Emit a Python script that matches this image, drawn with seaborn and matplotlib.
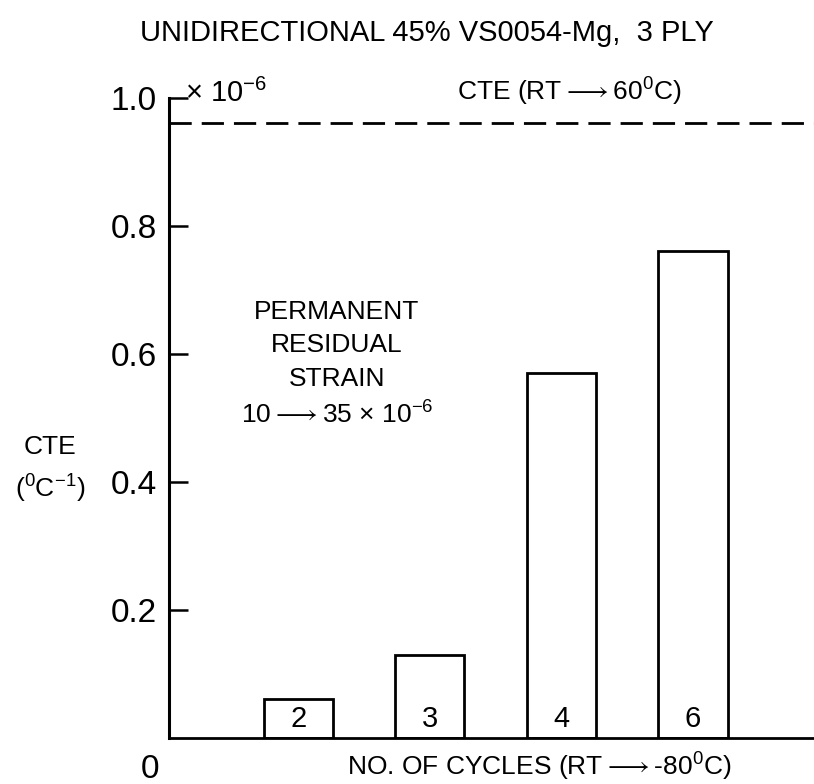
import matplotlib
matplotlib.use("Agg")
import matplotlib.pyplot as plt
import seaborn as sns
import pandas as pd

# ---- data ----
cycles = ["2", "3", "4", "6"]
cte_values = [0.061, 0.130, 0.570, 0.761]
cte_reference = 0.961
yticks = [0.2, 0.4, 0.6, 0.8, 1.0]
ytick_labels = ["0.2", "0.4", "0.6", "0.8", "1.0"]

sns.set_theme(style="white")
FONT = ["Liberation Sans", "DejaVu Sans"]
plt.rcParams["font.family"] = FONT
plt.rcParams["mathtext.default"] = "regular"
plt.rcParams["text.color"] = "black"

df = pd.DataFrame({"cycles": cycles, "cte": cte_values})

fig = plt.figure(figsize=(8.14, 7.84), dpi=100)
ax = fig.add_axes([0.208, 0.0587, 0.792, 0.8163])

sns.barplot(data=df, x="cycles", y="cte", order=cycles, color="white",
            edgecolor="black", linewidth=2.0, width=0.525, ax=ax, saturation=1)

ax.set_xlim(-0.981, 3.92)
ax.set_ylim(0, 1.0)
for s in ["top", "right"]:
    ax.spines[s].set_visible(False)
ax.spines["left"].set_linewidth(2.2)
ax.spines["bottom"].set_linewidth(2.0)
ax.spines["left"].set_color("black")
ax.spines["bottom"].set_color("black")

ax.set_yticks(yticks)
ax.set_yticklabels(ytick_labels)
ax.tick_params(axis="y", direction="in", length=14, width=1.8, pad=9,
               labelsize=24, colors="black", left=True)
ax.set_xticks([])
ax.set_xlabel("")
ax.set_ylabel("")

# reference dashed line
ax.axhline(cte_reference, color="black", linestyle=(0, (8, 3.6)), linewidth=2.0)

# bar labels
for i, c in enumerate(cycles):
    ax.text(i, 0.03, c, ha="center", va="center", fontsize=21, color="black")

# annotations
ax.text(0.024, 0.985, r"$\times$ 10$^{-6}$", transform=ax.transAxes, ha="left",
        va="bottom", fontsize=21)
ax.text(0.62, 0.985, r"CTE (RT$\longrightarrow$60$^{0}$C)", transform=ax.transAxes,
        ha="center", va="bottom", fontsize=19)
ax.text(0.26, 0.614, "PERMANENT\nRESIDUAL\nSTRAIN", transform=ax.transAxes,
        ha="center", va="center", fontsize=19, linespacing=1.5)
ax.text(0.26, 0.505, r"10$\longrightarrow$35 $\times$ 10$^{-6}$", transform=ax.transAxes,
        ha="center", va="center", fontsize=19)

fig.text(0.525, 0.958, "UNIDIRECTIONAL 45% VS0054-Mg,  3 PLY", ha="center",
         va="center", fontsize=21)
fig.text(0.663, 0.022, r"NO. OF CYCLES (RT$\longrightarrow$-80$^{0}$C)", ha="center",
         va="center", fontsize=19)
fig.text(0.184, 0.018, "0", ha="center", va="center", fontsize=24)
fig.text(0.061, 0.43, "CTE", ha="center", va="center", fontsize=19)
fig.text(0.061, 0.377, "($^{0}$C$^{-1}$)", ha="center", va="center", fontsize=19)

fig.savefig("out.png", dpi=100, facecolor="white")
